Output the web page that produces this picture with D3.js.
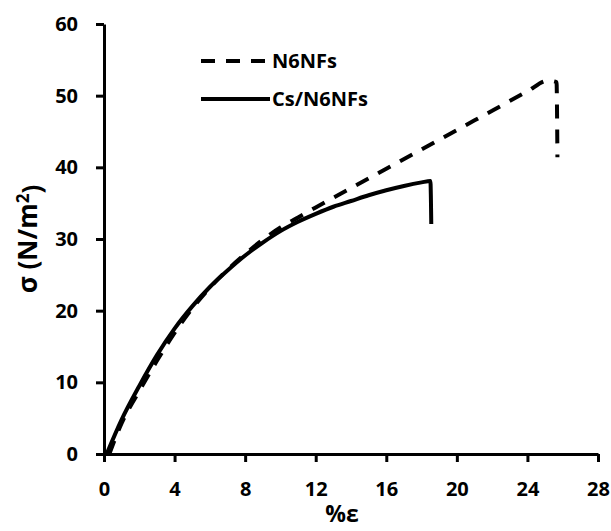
<!DOCTYPE html>
<html>
<head>
<meta charset="utf-8">
<script src="https://cdn.jsdelivr.net/npm/d3@7"></script>
<style>
  body { margin: 0; background: #fff; }
  text { font-family: "Open Sans", sans-serif; font-weight: bold; fill: #000; }
</style>
</head>
<body>
<div id="chartContainer"></div>
<script>
// strain (%) and stress values
const n6Strain = [0.3, 1, 2, 3, 4, 5, 6, 7, 8, 9, 10, 11, 12, 14, 16, 18, 20, 22, 24, 25.15, 25.65, 25.7];
const n6Stress = [0, 4.3, 8.8, 13.0, 16.9, 20.3, 23.2, 25.7, 27.9, 29.9, 31.6, 33.0, 34.4, 37.1, 39.8, 42.5, 45.2, 47.9, 50.6, 52.1, 51.9, 41.4];

const csStrain = [0.15, 1, 2, 3, 4, 5, 6, 7, 8, 9, 10, 11, 12, 13, 14, 15, 16, 17, 18, 18.5, 18.55];
const csStress = [0, 4.8, 9.5, 13.8, 17.5, 20.6, 23.3, 25.6, 27.7, 29.5, 31.1, 32.4, 33.5, 34.5, 35.3, 36.1, 36.8, 37.4, 37.9, 38.1, 32.1];

const xTicks = [0, 4, 8, 12, 16, 20, 24, 28];
const yTicks = [0, 10, 20, 30, 40, 50, 60];

const seriesNames = ["N6NFs", "Cs/N6NFs"];

const chartWidth = 611;
const chartHeight = 531;
const margin = { top: 24, right: 13, bottom: 77, left: 104 };
const width = chartWidth - margin.left - margin.right;
const height = chartHeight - margin.top - margin.bottom;

const svg = d3.select("#chartContainer").append("svg")
  .attr("width", chartWidth)
  .attr("height", chartHeight)
  .append("g")
  .attr("transform", `translate(${margin.left}, ${margin.top})`);

const xScale = d3.scaleLinear().domain([0, 28]).range([0, width]);
const yScale = d3.scaleLinear().domain([0, 60]).range([height, 0]);

// axes
const xAxis = svg.append("g")
  .attr("transform", `translate(0, ${height})`)
  .call(d3.axisBottom(xScale).tickValues(xTicks).tickSize(8).tickSizeOuter(0).tickPadding(20));

const yAxis = svg.append("g")
  .call(d3.axisLeft(yScale).tickValues(yTicks).tickSize(8).tickSizeOuter(0).tickPadding(18));

[xAxis, yAxis].forEach(ax => {
  ax.select(".domain").attr("stroke", "#000").attr("stroke-width", 3);
  ax.selectAll(".tick line").attr("stroke", "#000").attr("stroke-width", 3);
  ax.selectAll(".tick text").style("font-size", "20px").attr("fill", "#000");
});

// curves
const line = d3.line()
  .x(d => xScale(d[0]))
  .y(d => yScale(d[1]))
  .curve(d3.curveMonotoneX);

svg.append("path")
  .datum(n6Strain.map((x, i) => [x, n6Stress[i]]))
  .attr("d", line)
  .attr("fill", "none")
  .attr("stroke", "#000")
  .attr("stroke-width", 4)
  .attr("stroke-dasharray", "14,11");

svg.append("path")
  .datum(csStrain.map((x, i) => [x, csStress[i]]))
  .attr("d", line)
  .attr("fill", "none")
  .attr("stroke", "#000")
  .attr("stroke-width", 4);

// legend
const legend = svg.append("g").attr("transform", "translate(97, 37)");
seriesNames.forEach((name, i) => {
  const g = legend.append("g").attr("transform", `translate(0, ${i * 38})`);
  g.append("line")
    .attr("x1", 0).attr("x2", 69)
    .attr("stroke", "#000")
    .attr("stroke-width", 4)
    .attr("stroke-dasharray", i === 0 ? "14,11" : null);
  g.append("text")
    .attr("x", 71)
    .attr("dy", "0.36em")
    .style("font-size", "20px")
    .text(name);
});

// axis titles
svg.append("text")
  .attr("x", 238)
  .attr("y", height + 68)
  .attr("text-anchor", "middle")
  .style("font-size", "23px")
  .text("%ε");

const yTitle = svg.append("text")
  .attr("transform", `translate(-67, ${height / 2}) rotate(-90)`)
  .attr("text-anchor", "middle")
  .style("font-size", "26px");
yTitle.append("tspan").text("σ (N/m");
yTitle.append("tspan").attr("dy", "-0.45em").style("font-size", "17px").text("2");
yTitle.append("tspan").attr("dy", "0.45em").text(")");
</script>
</body>
</html>
